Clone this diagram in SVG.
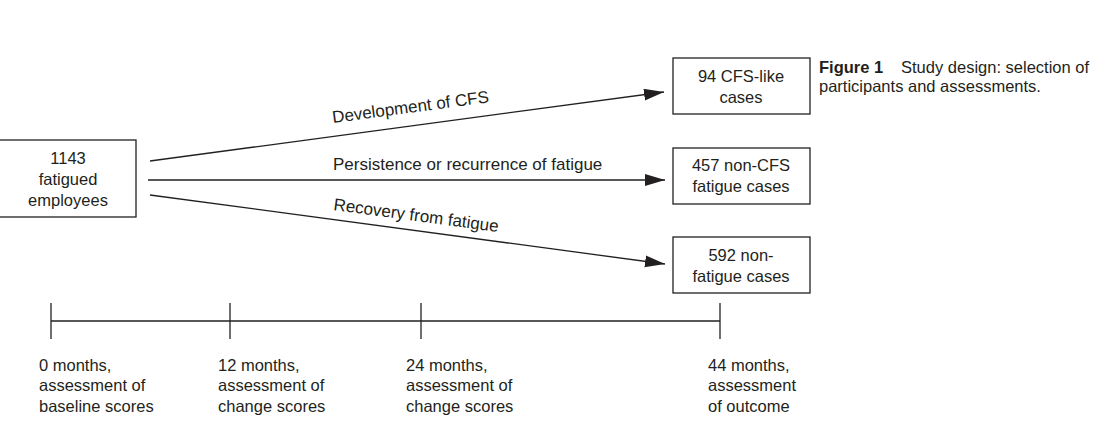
<svg xmlns="http://www.w3.org/2000/svg" width="1103" height="445" viewBox="0 0 1103 445">
<style>
text{font-family:"Liberation Sans",Arial,sans-serif;font-size:16.5px;fill:#231f20}
.c{text-anchor:middle}
.a{font-size:17px}
.box{fill:#fff;stroke:#231f20;stroke-width:1.3}
.ln{stroke:#231f20;stroke-width:1.3;fill:none}
.b{font-weight:bold}
</style>
<defs>
<marker id="ah" markerUnits="userSpaceOnUse" markerWidth="22" markerHeight="14" refX="20" refY="6" orient="auto">
<path d="M0,0 L20,6 L0,12 z" fill="#231f20"/>
</marker>
</defs>
<rect width="1103" height="445" fill="#fff"/>
<g id="connectors">
<line class="ln" x1="150" y1="161" x2="664" y2="92" marker-end="url(#ah)"/>
<line class="ln" x1="148" y1="180" x2="665" y2="180" marker-end="url(#ah)"/>
<line class="ln" x1="150" y1="195" x2="665" y2="264" marker-end="url(#ah)"/>
<text class="a" transform="translate(333,123) rotate(-7.6)">Development of CFS</text>
<text class="a" x="333" y="170">Persistence or recurrence of fatigue</text>
<text class="a" transform="translate(333,210) rotate(7.6)">Recovery from fatigue</text>
</g>
<g id="n-start">
<rect class="box" x="-1" y="140" width="137" height="77"/>
<text class="c" x="68" y="164">1143</text>
<text class="c" x="68" y="185">fatigued</text>
<text class="c" x="68" y="206">employees</text>
</g>
<g id="n-cfs">
<rect class="box" x="673" y="58" width="137" height="56"/>
<text class="c" x="741" y="82">94 CFS-like</text>
<text class="c" x="741" y="103">cases</text>
</g>
<g id="n-noncfs">
<rect class="box" x="673" y="148" width="137" height="56"/>
<text class="c" x="741" y="171">457 non-CFS</text>
<text class="c" x="741" y="192">fatigue cases</text>
</g>
<g id="n-nonfatigue">
<rect class="box" x="673" y="237" width="137" height="56"/>
<text class="c" x="741" y="261">592 non-</text>
<text class="c" x="741" y="282">fatigue cases</text>
</g>
<g id="timeline">
<line class="ln" x1="51" y1="321" x2="720" y2="321"/>
<line class="ln" x1="51" y1="303" x2="51" y2="339"/>
<line class="ln" x1="230" y1="303" x2="230" y2="339"/>
<line class="ln" x1="421" y1="303" x2="421" y2="339"/>
<line class="ln" x1="720" y1="303" x2="720" y2="339"/>
<text x="39" y="371">0 months,</text>
<text x="39" y="391">assessment of</text>
<text x="39" y="412">baseline scores</text>
<text x="218" y="371">12 months,</text>
<text x="218" y="391">assessment of</text>
<text x="218" y="412">change scores</text>
<text x="406" y="371">24 months,</text>
<text x="406" y="391">assessment of</text>
<text x="406" y="412">change scores</text>
<text x="708" y="371">44 months,</text>
<text x="708" y="391">assessment</text>
<text x="708" y="412">of outcome</text>
</g>
<g id="caption">
<text x="819" y="73"><tspan class="b">Figure 1</tspan><tspan x="901">Study design: selection of</tspan></text>
<text x="819" y="92">participants and assessments.</text>
</g>
</svg>
